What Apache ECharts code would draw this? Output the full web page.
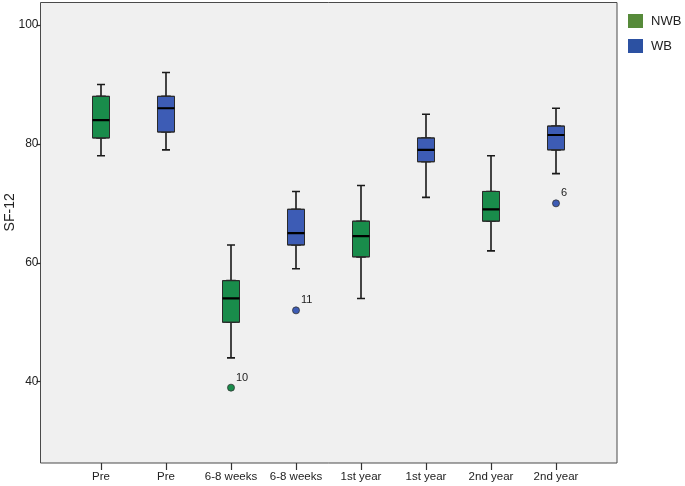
<!DOCTYPE html>
<html>
<head>
<meta charset="utf-8">
<script src="https://cdn.jsdelivr.net/npm/echarts@6/dist/echarts.min.js"></script>
<style>
html,body{margin:0;padding:0;background:#fff;}
#chart{width:685px;height:486px;}
</style>
</head>
<body>
<div id="chart"></div>
<script>
// ---- data ----
const categories = ['Pre', 'Pre', '6-8 weeks', '6-8 weeks', '1st year', '1st year', '2nd year', '2nd year'];
const nwbIndex = [0, 2, 4, 6];
const wbIndex = [1, 3, 5, 7];
const nwbMin = [78, 44, 54, 62];
const nwbQ1 = [81, 50, 61, 67];
const nwbMedian = [84, 54, 64.5, 69];
const nwbQ3 = [88, 57, 67, 72];
const nwbMax = [90, 63, 73, 78];
const wbMin = [79, 59, 71, 75];
const wbQ1 = [82, 63, 77, 79];
const wbMedian = [86, 65, 79, 81.5];
const wbQ3 = [88, 69, 81, 83];
const wbMax = [92, 72, 85, 86];
const outlierIndex = [2, 3, 7];
const outlierValue = [39, 52, 70];
const outlierLabel = ['10', '11', '6'];
const outlierGroup = ['NWB', 'WB', 'WB'];
const yTicks = [40, 60, 80, 100];
const yAxisTitle = 'SF-12';

// ---- style ----
const FONT = 'Liberation Sans, Arial, sans-serif';
const GREEN = '#198c4b';
const BLUE = '#3d5cb5';
const LEGEND_GREEN = '#568a3a';
const LEGEND_BLUE = '#2c51a2';

// build per-item rows for both groups
function rows(kind) {
  const out = [];
  const groups = [
    { idx: nwbIndex, mn: nwbMin, q1: nwbQ1, md: nwbMedian, q3: nwbQ3, mx: nwbMax, color: GREEN },
    { idx: wbIndex, mn: wbMin, q1: wbQ1, md: wbMedian, q3: wbQ3, mx: wbMax, color: BLUE }
  ];
  groups.forEach(g => {
    g.idx.forEach((x, i) => {
      let v;
      if (kind === 'whisker') v = [x, g.mn[i], g.q1[i], g.md[i], g.q3[i], g.mx[i]];
      else if (kind === 'box') v = [x, g.q1[i], g.q1[i], g.md[i], g.q3[i], g.q3[i]];
      else v = [x, g.md[i], g.md[i], g.md[i], g.md[i], g.md[i]];
      const item = { value: v };
      if (kind === 'box') item.itemStyle = { color: g.color };
      out.push(item);
    });
  });
  return out;
}

const common = {
  type: 'boxplot',
  yAxisIndex: 1,
  encode: { x: 0, y: [1, 2, 3, 4, 5] },
  silent: true,
  animation: false
};

const series = [
  Object.assign({}, common, {
    name: 'whiskers',
    xAxisIndex: 1,
    boxWidth: [8, 8],
    z: 2,
    itemStyle: { color: 'rgba(0,0,0,0)', borderColor: '#1a1a1a', borderWidth: 1.6 },
    data: rows('whisker')
  }),
  Object.assign({}, common, {
    name: 'boxes',
    xAxisIndex: 2,
    boxWidth: [17, 17],
    z: 3,
    itemStyle: { color: GREEN, borderColor: '#2a2a2a', borderWidth: 1 },
    data: rows('box')
  }),
  Object.assign({}, common, {
    name: 'medians',
    xAxisIndex: 3,
    boxWidth: [17, 17],
    z: 4,
    itemStyle: { color: 'rgba(0,0,0,0)', borderColor: '#000', borderWidth: 2.2 },
    data: rows('median')
  }),
  // legend entries
  { type: 'scatter', name: 'NWB', xAxisIndex: 1, yAxisIndex: 1, data: [], itemStyle: { color: LEGEND_GREEN, opacity: 1 } },
  { type: 'scatter', name: 'WB', xAxisIndex: 1, yAxisIndex: 1, data: [], itemStyle: { color: LEGEND_BLUE, opacity: 1 } },
  {
    type: 'scatter',
    name: 'outliers',
    xAxisIndex: 1,
    yAxisIndex: 1,
    clip: false,
    silent: true,
    z: 5,
    symbolSize: 7,
    data: outlierIndex.map((x, i) => ({
      value: [x, outlierValue[i]],
      name: outlierLabel[i],
      itemStyle: { color: outlierGroup[i] === 'NWB' ? GREEN : BLUE, borderColor: '#333', borderWidth: 0.8, opacity: 1 }
    })),
    label: {
      show: true,
      formatter: p => p.name,
      position: 'right',
      offset: [0, -10],
      distance: 1,
      fontFamily: FONT,
      fontSize: 11,
      color: '#222'
    },
    animation: false
  }
];

const hiddenCat = () => ({
  type: 'category', gridIndex: 1, data: categories, boundaryGap: true, show: false
});

const chart = echarts.init(document.getElementById('chart'), null, { renderer: 'canvas' });
chart.setOption({
  backgroundColor: '#ffffff',
  animation: false,
  grid: [
    { left: 40.5, top: 2.5, width: 576.5, height: 460.5, show: true, backgroundColor: '#f0f0f0', borderColor: '#4a4a4a', borderWidth: 1, z: 0, outerBoundsMode: 'none', containLabel: false },
    { left: 68.5, top: 25, width: 520, height: 356.7, outerBoundsMode: 'none', containLabel: false }
  ],
  legend: {
    orient: 'vertical',
    left: 628,
    top: 14,
    padding: 0,
    itemWidth: 15,
    itemHeight: 14,
    itemGap: 11,
    selectedMode: false,
    textStyle: { fontFamily: FONT, fontSize: 13, color: '#222', padding: [0, 0, 0, 3] },
    data: [
      { name: 'NWB', icon: 'rect', itemStyle: { color: LEGEND_GREEN, borderWidth: 0, opacity: 1 } },
      { name: 'WB', icon: 'rect', itemStyle: { color: LEGEND_BLUE, borderWidth: 0, opacity: 1 } }
    ]
  },
  xAxis: [
    { type: 'value', gridIndex: 0, show: false, min: 0, max: 1 },
    {
      type: 'category',
      gridIndex: 1,
      data: categories,
      boundaryGap: true,
      offset: 81.3,
      axisLine: { show: false },
      axisTick: { show: true, alignWithLabel: true, length: 7, lineStyle: { color: '#333', width: 1.2 } },
      axisLabel: { fontFamily: FONT, fontSize: 11.5, color: '#222', margin: 8, interval: 0 },
      splitLine: { show: false }
    },
    hiddenCat(),
    hiddenCat()
  ],
  yAxis: [
    { type: 'value', gridIndex: 0, show: false, min: 0, max: 1 },
    {
      type: 'value',
      gridIndex: 1,
      min: yTicks[0],
      max: yTicks[yTicks.length - 1],
      interval: yTicks[1] - yTicks[0],
      offset: 28,
      name: yAxisTitle,
      nameLocation: 'middle',
      nameGap: 23,
      nameMoveOverlap: false,
      nameTextStyle: { fontFamily: FONT, fontSize: 14, color: '#222', padding: [0, 18, 0, 0] },
      axisLine: { show: false },
      axisTick: { show: true, length: 4, lineStyle: { color: '#333', width: 1.2 } },
      axisLabel: { fontFamily: FONT, fontSize: 12, color: '#222', margin: 2 },
      splitLine: { show: false }
    }
  ],
  series: series
});
</script>
</body>
</html>
